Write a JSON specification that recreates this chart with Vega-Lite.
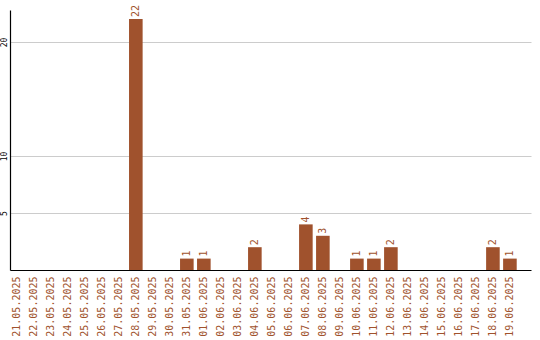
{
  "$schema": "https://vega.github.io/schema/vega-lite/v6.json",
  "autosize": "none",
  "width": 521,
  "height": 260,
  "padding": {"left": 10, "top": 10, "right": 9, "bottom": 70},
  "background": "white",
  "config": {"view": {"stroke": null}},
  "data": {"values": [
    {"date": "21.05.2025", "count": 0},
    {"date": "22.05.2025", "count": 0},
    {"date": "23.05.2025", "count": 0},
    {"date": "24.05.2025", "count": 0},
    {"date": "25.05.2025", "count": 0},
    {"date": "26.05.2025", "count": 0},
    {"date": "27.05.2025", "count": 0},
    {"date": "28.05.2025", "count": 22},
    {"date": "29.05.2025", "count": 0},
    {"date": "30.05.2025", "count": 0},
    {"date": "31.05.2025", "count": 1},
    {"date": "01.06.2025", "count": 1},
    {"date": "02.06.2025", "count": 0},
    {"date": "03.06.2025", "count": 0},
    {"date": "04.06.2025", "count": 2},
    {"date": "05.06.2025", "count": 0},
    {"date": "06.06.2025", "count": 0},
    {"date": "07.06.2025", "count": 4},
    {"date": "08.06.2025", "count": 3},
    {"date": "09.06.2025", "count": 0},
    {"date": "10.06.2025", "count": 1},
    {"date": "11.06.2025", "count": 1},
    {"date": "12.06.2025", "count": 2},
    {"date": "13.06.2025", "count": 0},
    {"date": "14.06.2025", "count": 0},
    {"date": "15.06.2025", "count": 0},
    {"date": "16.06.2025", "count": 0},
    {"date": "17.06.2025", "count": 0},
    {"date": "18.06.2025", "count": 2},
    {"date": "19.06.2025", "count": 1}
  ]},
  "encoding": {
    "x": {
      "field": "date", "type": "ordinal", "sort": null,
      "scale": {"paddingInner": 0.2, "paddingOuter": 0.42, "align": 0},
      "axis": {
        "title": null, "labelAngle": -90, "labelAlign": "right", "labelBaseline": "middle",
        "labelColor": "#A0522D", "labelFont": "DejaVu Sans Mono", "labelFontSize": 10,
        "labelPadding": 6, "ticks": false, "domainColor": "black", "domainWidth": 1.2,
        "grid": false
      }
    },
    "y": {
      "field": "count", "type": "quantitative",
      "scale": {"domain": [0, 22.8], "nice": false},
      "axis": {
        "title": null, "values": [5, 10, 20], "labelAngle": -90,
        "labelAlign": "center", "labelBaseline": "bottom",
        "labelColor": "black", "labelFont": "DejaVu Sans Mono", "labelFontSize": 8,
        "labelPadding": 2, "ticks": false, "domainColor": "black", "domainWidth": 1.2,
        "grid": true, "gridColor": "#cccccc", "gridWidth": 1
      }
    }
  },
  "layer": [
    {"mark": {"type": "bar", "color": "#A0522D"}},
    {
      "transform": [{"filter": "datum.count > 0"}],
      "mark": {"type": "text", "angle": 270, "align": "left", "baseline": "middle",
               "dx": 2, "color": "#A0522D", "font": "DejaVu Sans Mono", "fontSize": 10},
      "encoding": {"text": {"field": "count", "type": "quantitative"}}
    }
  ]
}
